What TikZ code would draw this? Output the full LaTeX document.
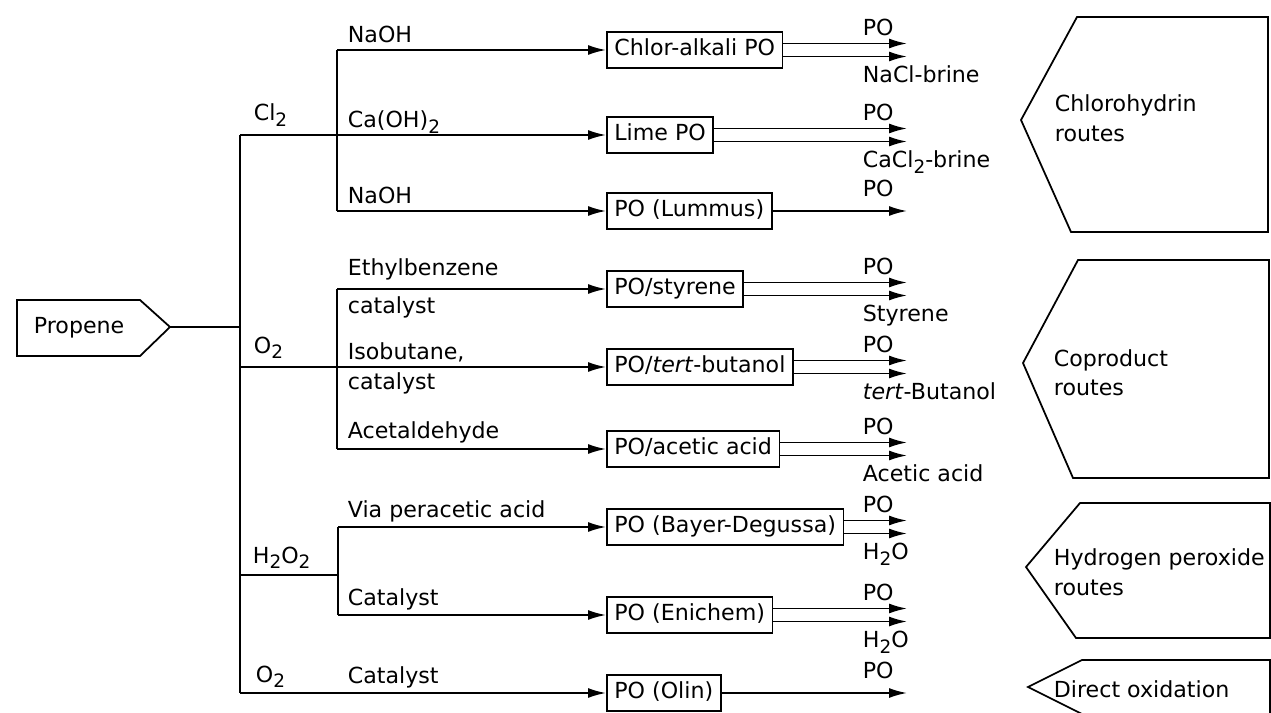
\documentclass[tikz,border=0pt]{standalone}
\usepackage{fontspec}
\setmainfont{DejaVu Sans}
\usetikzlibrary{arrows.meta, positioning, calc}

\newcommand\lowidx[1]{\raisebox{-0.45ex}{\fontsize{10.5}{12}\selectfont #1}}

\tikzset{
  flow/.style={-{Latex[length=3.6mm,width=2mm]}},
  unit/.style={draw, anchor=west, minimum height=0.72cm, inner xsep=0.15cm,
    text height=9.4pt, text depth=2.6pt},
  lbl/.style={anchor=base west, inner sep=0pt},
}

\begin{document}
\begin{tikzpicture}[x=0.02cm, y=-0.02cm, line width=1pt,
  font=\fontsize{12.6}{15}\selectfont]
\useasboundingbox (0,0) rectangle (1271,713);

% feed
\draw (17,300) -- (140,300) -- (170,327) -- (140,356) -- (17,356) -- cycle;
\node[lbl] (propene) at (33,333) {Propene};
\coordinate (feed) at (170,327);
\coordinate (main) at (240,327);
\coordinate (s1) at (337,0);
\coordinate (s2) at (337,0);
\coordinate (s3) at (338,0);
\coordinate (hp) at (240,575);
\coordinate (out) at (907,0);
\coordinate (lab) at (862,0);

% process units
\node[unit] (chlor)   at (606,50)  {Chlor-alkali PO};
\node[unit] (lime)    at (606,135) {Lime PO};
\node[unit] (lummus)  at (606,211) {PO (Lummus)};
\node[unit] (styrene) at (606,289) {PO/styrene};
\node[unit] (tert)    at (606,367) {PO/\textit{tert}-butanol};
\node[unit] (acetic)  at (606,449) {PO/acetic acid};
\node[unit] (bayer)   at (606,527) {PO (Bayer-Degussa)};
\node[unit] (enichem) at (606,615) {PO (Enichem)};
\node[unit] (olin)    at (606,693) {PO (Olin)};

% trunk and branches
\draw (feed) -- (main);
\draw (lime -| main) -- (olin -| main);
\draw[flow] (lime -| main) -- (lime);
\draw[flow] (tert -| main) -- (tert);
\draw[flow] (olin -| main) -- (olin);
\draw (hp) -- (hp -| s3);
\draw (chlor -| s1) -- (lummus -| s1);
\draw (styrene -| s2) -- (acetic -| s2);
\draw (bayer -| s3) -- (enichem -| s3);
\foreach \n/\s in {chlor/s1, lummus/s1, styrene/s2, acetic/s2, bayer/s3, enichem/s3}
  \draw[flow] (\n -| \s) -- (\n);

\node[lbl] (cl2)  at (253,121) {Cl\lowidx{2}};
\node[lbl] (o2a)  at (253,353) {O\lowidx{2}};
\node[lbl] (h2o2) at (252,563) {H\lowidx{2}O\lowidx{2}};
\node[lbl] (o2b)  at (255,682) {O\lowidx{2}};

\node[lbl] (naoha) at (347,43)  {NaOH};
\node[lbl] (caoh)  at (347,128) {Ca(OH)\lowidx{2}};
\node[lbl] (naohb) at (347,203) {NaOH};
\node[lbl] (ethyl) at (347,275) {Ethylbenzene};
\node[lbl] (cata)  at (347,313) {catalyst};
\node[lbl] (isob)  at (347,359) {Isobutane,};
\node[lbl] (catb)  at (347,389) {catalyst};
\node[lbl] (acet)  at (347,438) {Acetaldehyde};
\node[lbl] (via)   at (347,517) {Via peracetic acid};
\node[lbl] (catc)  at (347,605) {Catalyst};
\node[lbl] (catd)  at (347,683) {Catalyst};

% products
\foreach \n/\by in {chlor/NaCl-brine, lime/CaCl\lowidx{2}-brine,
    styrene/Styrene, tert/\textit{tert}-Butanol, acetic/Acetic acid,
    bayer/H\lowidx{2}O, enichem/H\lowidx{2}O} {
  \draw[flow] ([yshift=3.7pt]\n.east) -- ([yshift=3.7pt]\n.east -| out);
  \draw[flow] ([yshift=-3.7pt]\n.east) -- ([yshift=-3.7pt]\n.east -| out);
  \node[lbl, yshift=8.5pt] (\n-po) at (\n.east -| lab) {PO};
  \node[lbl, yshift=-18.7pt] (\n-by) at (\n.east -| lab) {\by};
}
\foreach \n in {lummus, olin} {
  \draw[flow] (\n.east) -- (\n.east -| out);
  \node[lbl, yshift=8.5pt] (\n-po) at (\n.east -| lab) {PO};
}

% route groups
\draw (1021,120) -- (1077,17) -- (1268,17) -- (1268,232) -- (1071,232) -- cycle;
\draw (1023,363) -- (1078,260) -- (1269,260) -- (1269,478) -- (1073,478) -- cycle;
\draw (1026,567) -- (1080,503) -- (1270,503) -- (1270,638) -- (1076,638) -- cycle;
\draw (1028,687) -- (1082,660) -- (1270,660) -- (1270,716) -- (1086,716) -- cycle;
\node[lbl] (chlr)  at (1054,112) {Chlorohydrin};
\node[lbl] (chlrb) at (1054,141) {routes};
\node[lbl] (copr)  at (1053,366) {Coproduct};
\node[lbl] (coprb) at (1053,395) {routes};
\node[lbl] (hydr)  at (1053,565) {Hydrogen peroxide};
\node[lbl] (hydrb) at (1053,595) {routes};
\node[lbl] (dirx)  at (1053,697) {Direct oxidation};
\end{tikzpicture}
\end{document}
